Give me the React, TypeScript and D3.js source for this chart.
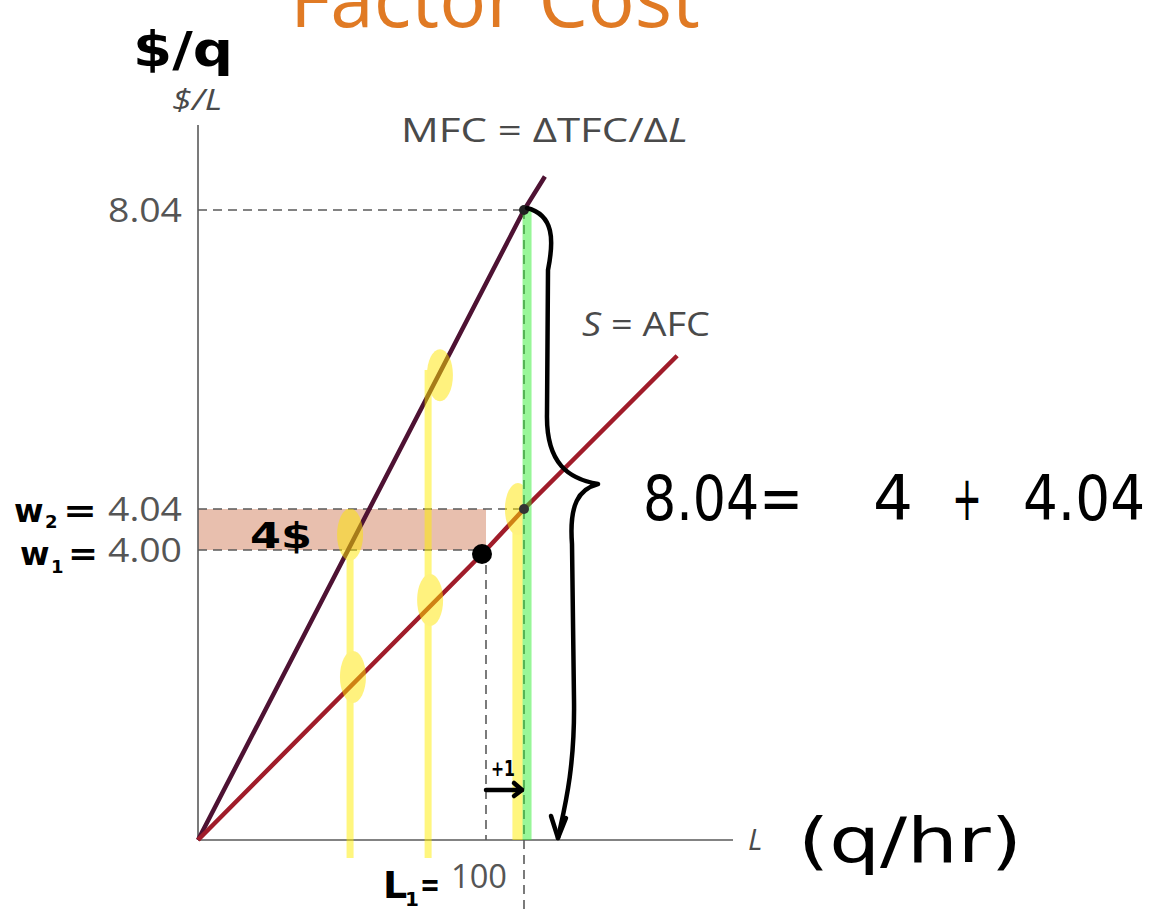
import React from "react";
import * as d3 from "d3";

const W = 1163;
const H = 914;

// Labour (L) break points of the horizontal axis: the step from 100 to 101 is drawn wide
const laborDomain = [0, 100, 101, 106.5];
// Wage break points of the vertical axis: the gap 4.00 -> 4.04 is drawn wide
const wageDomain = [0, 4.0, 4.04, 8.04, 9.18];

// Tick labels
const wageTicks = [8.04, 4.04, 4.0];
const wageTickLabels = ["8.04", "4.04", "4.00"];
const laborTicks = [100];
const laborTickLabels = ["100"];

// S = AFC curve (average factor cost)
const afcL = [0, 100, 101, 105.03];
const afcW = [0, 4.0, 4.04, 6.09];
// MFC curve (marginal factor cost)
const mfcL = [0, 101, 101.55];
const mfcW = [0, 8.04, 8.49];

// Highlighter strokes: vertical stripes at labour levels, from a wage down to the axis
const stripeL = [52.8, 79.9, 100.84];
const stripeTopW = [4.04, 5.9, 4.06];
const greenStripeL = [101.08];
const greenStripeTopW = [8.04];
// Highlighted spots on the curves
const spotL = [52.8, 84.0, 80.6, 53.8, 100.84];
const spotW = [4.015, 5.83, 3.31, 2.25, 4.04];

// Handwritten decomposition of the marginal factor cost
const sumParts = ["8.04=", "4", "+", "4.04"];
const sumX = [643, 873, 952, 1023];
const sumLen = [160, 40, 30, 122];

const x = d3.scaleLinear().domain(laborDomain).range([198, 486, 524, 733]);
const y = d3.scaleLinear().domain(wageDomain).range([840, 550, 509, 210, 125]);

const line = d3
  .line<[number, number]>()
  .x((d) => x(d[0]))
  .y((d) => y(d[1]));

const afcPts = afcL.map((l, i) => [l, afcW[i]] as [number, number]);
const mfcPts = mfcL.map((l, i) => [l, mfcW[i]] as [number, number]);

const gray = "#5a5a5a";
const dash = "9 6";
const textFont = "'Open Sans', 'Noto Sans', sans-serif";
const handFont = "'DejaVu Sans', 'Noto Sans', sans-serif";

export default function App() {
  const x0 = x(0);
  const y0 = y(0);
  const xMax = x(laborDomain[laborDomain.length - 1]);
  const yMax = y(wageDomain[wageDomain.length - 1]);

  // Brace spanning MFC at L = 101 (8.04) down to the axis
  const bx = x(101);
  const bTop = y(8.04);
  const bBot = y(0);
  const bMid = y(4.04) - 25;
  const brace = [
    `M${bx + 3},${bTop - 2}`,
    `C${bx + 30},${bTop + 5} ${bx + 30},${bTop + 30} ${bx + 24},${bTop + 60}`,
    `L${bx + 23},${bMid - 70}`,
    `C${bx + 22},${bMid - 20} ${bx + 45},${bMid - 5} ${bx + 74},${bMid}`,
    `C${bx + 55},${bMid + 5} ${bx + 45},${bMid + 20} ${bx + 48},${bMid + 60}`,
    `L${bx + 50},${bBot - 140}`,
    `C${bx + 51},${bBot - 70} ${bx + 40},${bBot - 30} ${bx + 34},${bBot - 2}`,
  ].join(" ");
  const arrowHead = `M${bx + 27},${bBot - 24} L${bx + 34},${bBot - 2} L${bx + 42},${bBot - 22}`;

  return (
    <svg
      width={W}
      height={H}
      viewBox={`0 0 ${W} ${H}`}
      style={{ position: "absolute", left: 0, top: 0, background: "#fff" }}
    >
      {/* Title, partly above the frame */}
      <text
        x={290}
        y={27}
        fontFamily={textFont}
        fontSize={78}
        fill="#e07a24"
        textLength={410}
        lengthAdjust="spacingAndGlyphs"
      >
        Factor Cost
      </text>

      {/* Shaded wage-increase rectangle */}
      <rect
        x={x0}
        y={y(4.04)}
        width={x(100) - x0}
        height={y(4.0) - y(4.04)}
        fill="#e8bfae"
      />

      {/* Reference dashed lines */}
      <g stroke={gray} strokeWidth={1.6} strokeDasharray={dash} fill="none">
        <line x1={x0} x2={x(101)} y1={y(8.04)} y2={y(8.04)} />
        <line x1={x0} x2={x(101)} y1={y(4.04)} y2={y(4.04)} />
        <line x1={x0} x2={x(100)} y1={y(4.0)} y2={y(4.0)} />
        <line x1={x(100)} x2={x(100)} y1={y(4.0)} y2={y0} />
        <line x1={x(101)} x2={x(101)} y1={y(8.04)} y2={H} />
      </g>

      {/* Axes */}
      <g stroke={gray} strokeWidth={1.6}>
        <line x1={x0} x2={x0} y1={yMax} y2={y0} />
        <line x1={x0} x2={xMax} y1={y0} y2={y0} />
      </g>

      {/* Curves */}
      <path d={line(mfcPts) ?? ""} stroke="#4e1233" strokeWidth={4.5} fill="none" />
      <path d={line(afcPts) ?? ""} stroke="#a01c2a" strokeWidth={4.5} fill="none" />

      {/* Highlighter marks */}
      <g opacity={0.5}>
        {stripeL.map((l, i) => (
          <line
            key={`s${i}`}
            x1={x(l)}
            x2={x(l)}
            y1={y(stripeTopW[i])}
            y2={i < 2 ? y0 + 18 : y0}
            stroke="#ffee00"
            strokeWidth={i < 2 ? 7 : 11}
          />
        ))}
        {spotL.map((l, i) => (
          <ellipse key={`p${i}`} cx={x(l)} cy={y(spotW[i])} rx={13} ry={26} fill="#ffe600" />
        ))}
        {greenStripeL.map((l, i) => (
          <line
            key={`g${i}`}
            x1={x(l)}
            x2={x(l)}
            y1={y(greenStripeTopW[i])}
            y2={y0}
            stroke="#33ee33"
            strokeWidth={9}
          />
        ))}
      </g>

      {/* Points */}
      <circle cx={x(101)} cy={y(8.04)} r={5} fill="#222" />
      <circle cx={x(101)} cy={y(4.04)} r={5} fill="#333" />
      <circle cx={x(100) - 4} cy={y(4.0) + 4} r={10} fill="#000" />

      {/* Tick labels */}
      <g fontFamily={textFont} fontSize={32} fill="#555">
        {wageTicks.map((w, i) => (
          <text
            key={`wt${i}`}
            x={108}
            y={y(w) + 12}
            textLength={74}
            lengthAdjust="spacingAndGlyphs"
          >
            {wageTickLabels[i]}
          </text>
        ))}
        {laborTicks.map((l, i) => (
          <text
            key={`lt${i}`}
            x={x(l) - 35}
            y={888}
            textLength={56}
            lengthAdjust="spacingAndGlyphs"
          >
            {laborTickLabels[i]}
          </text>
        ))}
      </g>

      {/* Axis titles and curve labels */}
      <g fontFamily={textFont} fill="#4a4a4a">
        <text x={172} y={110} fontSize={30} fontStyle="italic" textLength={50} lengthAdjust="spacingAndGlyphs">
          $/L
        </text>
        <text x={748} y={850} fontSize={30} fontStyle="italic">
          L
        </text>
        <text x={401} y={142} fontSize={33} textLength={287} lengthAdjust="spacingAndGlyphs">
          MFC = ΔTFC/Δ<tspan fontStyle="italic">L</tspan>
        </text>
        <text x={582} y={336} fontSize={33} textLength={128} lengthAdjust="spacingAndGlyphs">
          <tspan fontStyle="italic">S</tspan> = AFC
        </text>
      </g>

      {/* Handwritten notes */}
      <g fontFamily={handFont} fill="#000" fontWeight="bold">
        <text x={133} y={66} fontSize={48} textLength={100} lengthAdjust="spacingAndGlyphs">
          $/q
        </text>
        {/* w2 = */}
        <text x={14} y={522} fontSize={32}>w</text>
        <text x={45} y={528} fontSize={18}>2</text>
        <text x={63} y={522} fontSize={32} textLength={34} lengthAdjust="spacingAndGlyphs">=</text>
        {/* w1 = */}
        <text x={20} y={565} fontSize={32}>w</text>
        <text x={51} y={573} fontSize={18}>1</text>
        <text x={68} y={565} fontSize={32} textLength={30} lengthAdjust="spacingAndGlyphs">=</text>
        <text x={250} y={548} fontSize={36} textLength={62} lengthAdjust="spacingAndGlyphs">
          4$
        </text>
        {/* L1 = */}
        <text x={383} y={898} fontSize={38}>L</text>
        <text x={405} y={906} fontSize={20}>1</text>
        <text x={420} y={896} fontSize={32} textLength={20} lengthAdjust="spacingAndGlyphs">=</text>
        <text x={491} y={776} fontSize={22} textLength={24} lengthAdjust="spacingAndGlyphs">
          +1
        </text>
      </g>
      <g fontFamily={handFont} fill="#000" fontWeight="normal" fontSize={62}>
        {sumParts.map((s, i) => (
          <text key={`sum${i}`} x={sumX[i]} y={520} textLength={sumLen[i]} lengthAdjust="spacingAndGlyphs">
            {s}
          </text>
        ))}
        <text x={798} y={862} textLength={224} lengthAdjust="spacingAndGlyphs">
          (q/hr)
        </text>
      </g>

      {/* Hand-drawn brace and the +1 arrow */}
      <g stroke="#000" strokeWidth={4.5} fill="none" strokeLinecap="round" strokeLinejoin="round">
        <path d={brace} />
        <path d={arrowHead} />
        <path d={`M${x(100)},${y0 - 50} L${x(101) - 2},${y0 - 50}`} />
        <path d={`M${x(101) - 10},${y0 - 57} L${x(101) - 2},${y0 - 50} L${x(101) - 10},${y0 - 44}`} />
      </g>
    </svg>
  );
}
